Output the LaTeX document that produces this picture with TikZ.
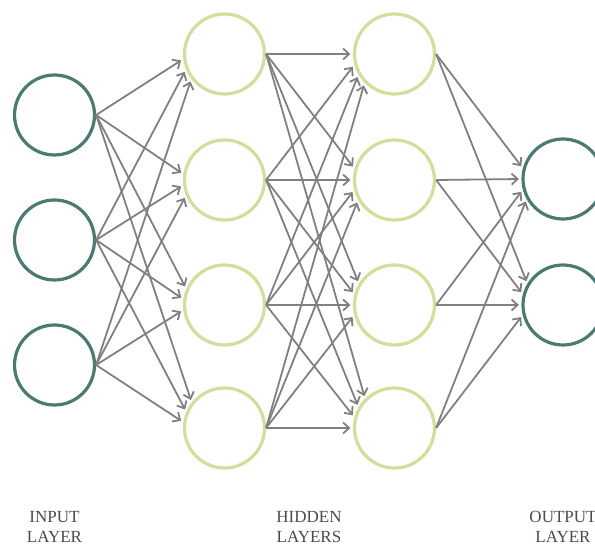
\documentclass[tikz,border=0pt]{standalone}
\usepackage{fontspec}
\setmainfont{Liberation Serif}
\usetikzlibrary{arrows.meta}
\definecolor{ioring}{RGB}{74,122,113}
\definecolor{hidring}{RGB}{206,224,155}
\definecolor{wire}{RGB}{128,128,128}
\definecolor{labelgrey}{RGB}{75,75,75}
\tikzset{
  x=1pt, y=1pt,
  neuron/.style={circle, minimum size=80pt, inner sep=0pt, line width=3.2pt, fill=white},
  ioneuron/.style={neuron, draw=ioring},
  hidneuron/.style={neuron, draw=hidring},
  conn/.style={draw=wire, line width=1.8pt, shorten >=2.5pt,
    -{Straight Barb[length=6pt,width=11pt,line width=1.8pt]}},
  layerlabel/.style={font=\fontsize{17}{20}\selectfont, text=labelgrey, align=center, inner sep=0pt}
}
\begin{document}
\begin{tikzpicture}
\useasboundingbox (0,0) rectangle (595,545);
\clip (0,0) rectangle (595,545);

% input layer
\foreach \i/\y in {1/430,2/305,3/180}
  \node[ioneuron] (in\i) at (54.5,\y) {};
% two hidden layers
\foreach \i/\y in {1/491,2/365,3/240,4/117} {
  \node[hidneuron] (ha\i) at (224.5,\y) {};
  \node[hidneuron] (hb\i) at (394.5,\y) {};
}
% output layer
\foreach \i/\y in {1/366,2/240}
  \node[ioneuron] (out\i) at (563,\y) {};

% connections: each arrow meets the target ring at an angle set by the height difference
\foreach \s/\ys in {1/430,2/305,3/180}
  \foreach \t/\yt in {1/491,2/365,3/240,4/117} {
    \pgfmathsetmacro\ang{180-0.12*(\ys-\yt)}
    \draw[conn] (in\s.east) -- (ha\t.\ang);
  }
\foreach \s/\ys in {1/491,2/365,3/240,4/117}
  \foreach \t/\yt in {1/491,2/365,3/240,4/117} {
    \pgfmathsetmacro\ang{180-0.12*(\ys-\yt)}
    \draw[conn] (ha\s.east) -- (hb\t.\ang);
  }
\foreach \s/\ys in {1/491,2/365,3/240,4/117}
  \foreach \t/\yt in {1/366,2/240} {
    \pgfmathsetmacro\ang{180-0.12*(\ys-\yt)}
    \draw[conn] (hb\s.east) -- (out\t.\ang);
  }

% layer captions
\node[layerlabel] (lin) at (54.5,18) {INPUT\\LAYER};
\node[layerlabel] (lhid) at (309,18) {HIDDEN\\LAYERS};
\node[layerlabel] (lout) at (563,18) {OUTPUT\\LAYER};
\end{tikzpicture}
\end{document}
